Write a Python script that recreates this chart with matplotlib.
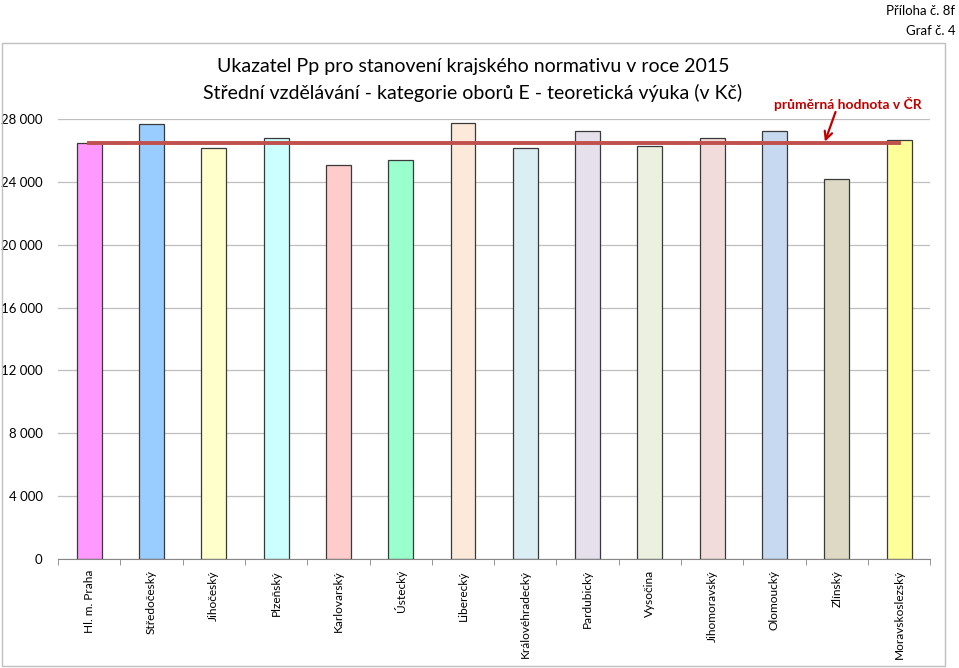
import matplotlib
matplotlib.use('Agg')
import matplotlib.pyplot as plt
from matplotlib.patches import Rectangle
from matplotlib.ticker import FuncFormatter, FixedLocator, NullFormatter

plt.rcParams['font.family'] = ['Lato', 'DejaVu Sans']

# data
regions = ['Hl. m. Praha', 'Středočeský', 'Jihočeský', 'Plzeňský', 'Karlovarský',
           'Ústecký', 'Liberecký', 'Královéhradecký', 'Pardubický', 'Vysočina',
           'Jihomoravský', 'Olomoucký', 'Zlínský', 'Moravskoslezský']
values = [26480, 27690, 26160, 26800, 25080, 25400, 27750,
          26160, 27240, 26290, 26800, 27240, 24190, 26670]
average_cr = 26450
colors = ['#FF99FF', '#99CCFF', '#FFFFCC', '#CCFFFF', '#FFCCCC', '#99FFCC', '#FDE9D9',
          '#DAEEF3', '#E5E0EC', '#EBF1DE', '#F2DCDB', '#C6D9F1', '#DDD9C4', '#FFFF99']
y_ticks = [0, 4000, 8000, 12000, 16000, 20000, 24000, 28000]

fig = plt.figure(figsize=(9.59, 6.68), dpi=100)
ax = fig.add_axes([0.0605, 0.1632, 0.9095, 0.6586])

x = list(range(len(regions)))
ax.bar(x, values, width=0.4, color=colors, edgecolor='#3a3a3a', linewidth=0.9, zorder=2)
ax.plot([x[0], x[-1]], [average_cr, average_cr], color='#C0504D', linewidth=2.8, zorder=3)

ax.set_xlim(-0.5, len(regions) - 0.5)
ax.set_ylim(0, 28000)
ax.set_yticks(y_ticks)
ax.yaxis.set_major_formatter(FuncFormatter(lambda v, p: f'{int(v):,}'.replace(',', '\u00a0')))
ax.grid(axis='y', color='#BFBFBF', linewidth=0.9, zorder=0)
ax.set_axisbelow(True)

ax.set_xticks(x)
ax.set_xticklabels(regions, rotation=90, fontsize=8.6)
ax.tick_params(axis='x', length=0, pad=8)
ax.xaxis.set_minor_locator(FixedLocator([i - 0.5 for i in range(len(regions) + 1)]))
ax.xaxis.set_minor_formatter(NullFormatter())
ax.tick_params(axis='x', which='minor', length=4, color='#868686')
ax.tick_params(axis='y', length=0, labelsize=9.5, pad=11)

for s in ['top', 'right', 'left']:
    ax.spines[s].set_visible(False)
ax.spines['bottom'].set_color('#868686')

fig.text(0.493, 0.900, 'Ukazatel Pp pro stanovení krajského normativu v roce 2015',
         ha='center', va='center', fontsize=14)
fig.text(0.493, 0.861, 'Střední vzdělávání - kategorie oborů E - teoretická výuka (v Kč)',
         ha='center', va='center', fontsize=14)

# label for the average line with its arrow
ax.text(12.18, 28960, 'průměrná hodnota v ČR', ha='center', va='center',
        fontsize=10, fontweight='bold', color='#C00000', clip_on=False)
ax.annotate('', xy=(11.81, 26560), xytext=(11.98, 28450), annotation_clip=False,
            arrowprops=dict(arrowstyle='->', color='#C00000', lw=1.6,
                            mutation_scale=14, shrinkA=0, shrinkB=0))

fig.text(0.996, 0.992, 'Příloha č. 8f', ha='right', va='top', fontsize=9.5)
fig.text(0.996, 0.962, 'Graf č. 4', ha='right', va='top', fontsize=9.5)

fig.add_artist(Rectangle((0.002, 0.003), 0.983, 0.933, transform=fig.transFigure,
                         fill=False, edgecolor='#BFBFBF', linewidth=1.0))

fig.savefig('out.png', dpi=100)
